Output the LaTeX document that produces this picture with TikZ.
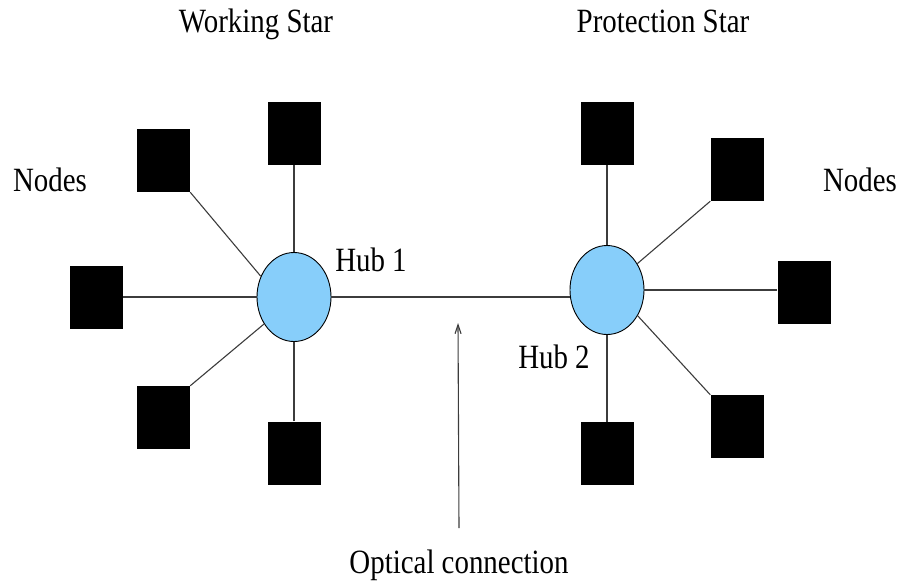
\documentclass[tikz,border=0pt]{standalone}
\RequirePackage[svgnames]{xcolor}
\definecolor{wiregray}{RGB}{60,60,60}
\usepackage{fontspec}
\setmainfont[FakeStretch=0.85]{Liberation Serif}
\usepackage{tikz}
\usetikzlibrary{shapes.geometric, arrows.meta, calc, positioning}

\begin{document}
\begin{tikzpicture}[x=1pt, y=-1pt,
		hub/.style={ellipse, draw, line width=0.9pt, fill=LightSkyBlue, minimum width=74, minimum height=89, inner sep=0},
		station/.style={rectangle, fill=black, minimum width=53, minimum height=63, inner sep=0},
		wire/.style={draw=wiregray, line width=1.1pt},
		lbl/.style={anchor=base, inner sep=0, font=\fontsize{34}{40}\selectfont}]
	
	\useasboundingbox (0,0) rectangle (900,582);
	
	% Hubs
	\node[hub] (hub1) at (294,297) {};
	\node[hub] (hub2) at (607,290) {};
	
	% Working star
	\node[station] (w1) at (294,133.5) {};
	\node[station] (w2) at (163.5,160.5) {};
	\node[station] (w3) at (96.5,297) {};
	\node[station] (w4) at (163.5,417.5) {};
	\node[station] (w5) at (294,453) {};
	
	% Protection star
	\node[station] (p1) at (607,133.5) {};
	\node[station] (p2) at (737,169.5) {};
	\node[station] (p3) at (804,292) {};
	\node[station] (p4) at (737,426.5) {};
	\node[station] (p5) at (607,453.5) {};
	
	% Links
	\draw[wire] (w1.south) -- (hub1.north);
	\draw[wire] (w2.south east) -- (hub1.148);
	\draw[wire] (w3.east) -- (hub1.west);
	\draw[wire] (w4.north east) -- (hub1.222);
	\draw[wire] (w5.north) -- (hub1.south);
	
	\draw[wire] (p1.south) -- (hub2.north);
	\draw[wire] (p2.south west) -- (hub2.41);
	\draw[wire] (p3.west |- hub2.east) -- (hub2.east);
	\draw[wire] (p4.north west) -- (hub2.320);
	\draw[wire] (p5.north) -- (hub2.south);
	
	\draw[wire] (hub1.east) -- (hub1.east -| hub2.west);
	
	% Labels
	\node[lbl] (working) at (256,32) {Working Star};
	\node[lbl] (protection) at (663,32) {Protection Star};
	\node[lbl] (nodesl) at (50,191) {Nodes};
	\node[lbl] (nodesr) at (860,191) {Nodes};
	\node[lbl] (hubl1) at (371,271) {Hub 1};
	\node[lbl] (hubl2) at (554,368) {Hub 2};
	\node[lbl] (optical) at (459,573) {Optical connection};
	
	\coordinate (tip) at (458,323);
	\draw[wire, -{Straight Barb[length=9pt, width=6pt]}] (optical.north |- 0,528) -- (tip);
	
\end{tikzpicture}
\end{document}
